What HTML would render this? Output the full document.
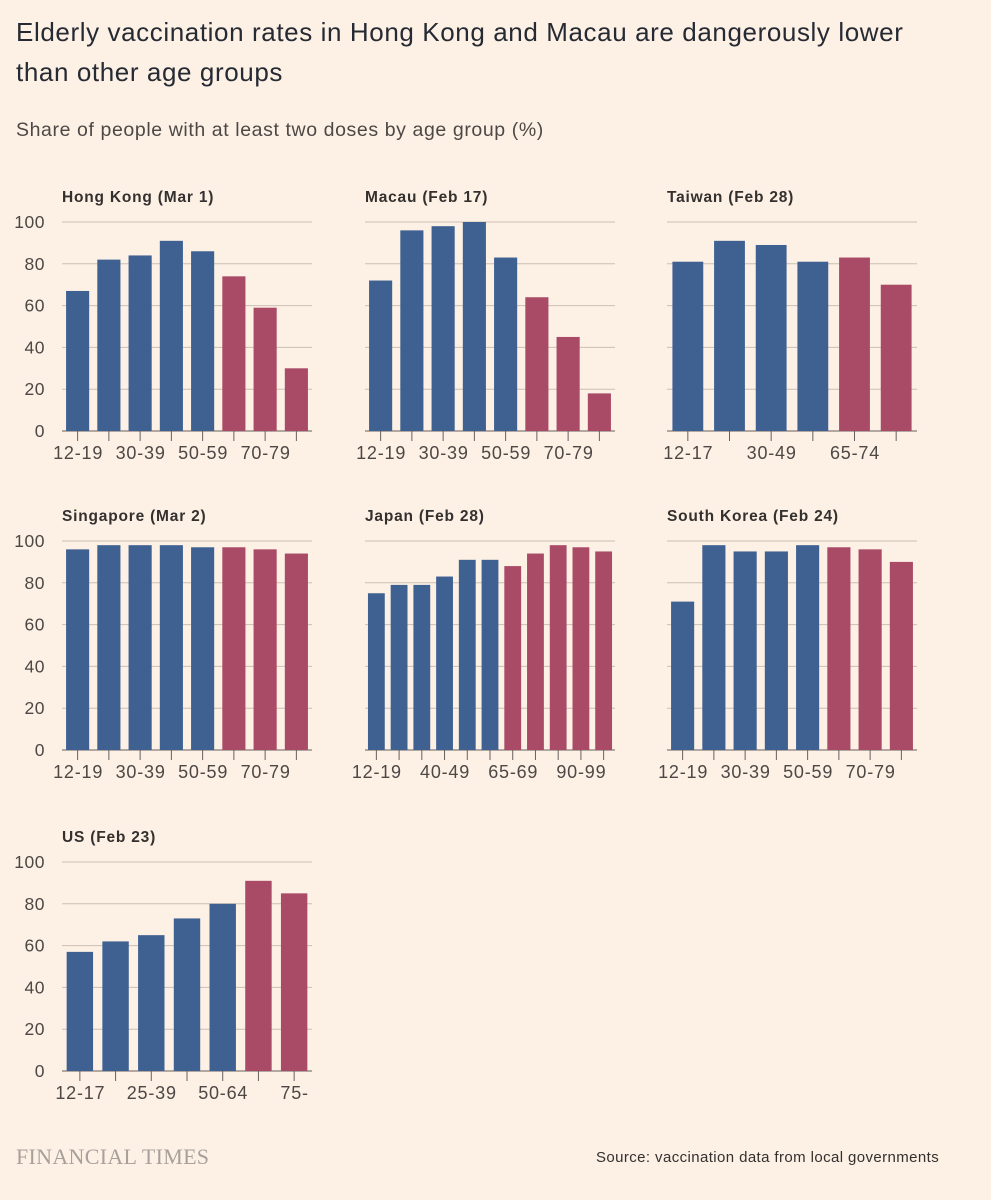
<!DOCTYPE html>
<html><head><meta charset="utf-8"><style>
body{margin:0;background:#fdf1e6;font-family:"Liberation Sans",sans-serif;}
#wrap{position:relative;width:991px;height:1200px;overflow:hidden;background:#fdf1e6}
.t{position:absolute;color:#33302e;white-space:nowrap}
</style></head><body><div id="wrap">
<div class="t" style="left:16px;top:12px;font-size:26px;line-height:40px;letter-spacing:0.6px;color:#262a33">Elderly vaccination rates in Hong Kong and Macau are dangerously lower<br>than other age groups</div>
<div class="t" style="left:16px;top:119px;font-size:19.5px;letter-spacing:0.6px;color:#4d4845">Share of people with at least two doses by age group (%)</div>
<div class="t" style="left:16px;top:1144px;font-family:'Liberation Serif',serif;font-size:22px;color:#a8a09a;letter-spacing:0.3px">FINANCIAL TIMES</div>
<div class="t" style="left:596px;top:1149px;font-size:15px;letter-spacing:0.4px;color:#33302e">Source: vaccination data from local governments</div>
<svg id="svg" width="991" height="1200" style="position:absolute;left:0;top:0"></svg>
</div>
<script>
const hkCats=["12-19","20-29","30-39","40-49","50-59","60-69","70-79","80+"];
const hkVals=[67,82,84,91,86,74,59,30];
const moVals=[72,96,98,100,83,64,45,18];
const twCats=["12-17","18-29","30-49","50-64","65-74","75+"];
const twVals=[81,91,89,81,83,70];
const sgVals=[96,98,98,98,97,97,96,94];
const jpCats=["12-19","20-29","30-39","40-49","50-59","60-64","65-69","70-79","80-89","90-99","100+"];
const jpVals=[75,79,79,83,91,91,88,94,98,97,95];
const krVals=[71,98,95,95,98,97,96,90];
const usCats=["12-17","18-24","25-39","40-49","50-64","65-74","75-"];
const usVals=[57,62,65,73,80,91,85];
const yTicks=[0,20,40,60,80,100];
const panels=[
 {name:"Hong Kong (Mar 1)",cats:hkCats,vals:hkVals,red:5,lab:2,x:62,y0:431,axis:true},
 {name:"Macau (Feb 17)",cats:hkCats,vals:moVals,red:5,lab:2,x:365,y0:431,axis:false},
 {name:"Taiwan (Feb 28)",cats:twCats,vals:twVals,red:4,lab:2,x:667,y0:431,axis:false},
 {name:"Singapore (Mar 2)",cats:hkCats,vals:sgVals,red:5,lab:2,x:62,y0:750,axis:true},
 {name:"Japan (Feb 28)",cats:jpCats,vals:jpVals,red:6,lab:3,x:365,y0:750,axis:false},
 {name:"South Korea (Feb 24)",cats:hkCats,vals:krVals,red:5,lab:2,x:667,y0:750,axis:false},
 {name:"US (Feb 23)",cats:usCats,vals:usVals,red:5,lab:2,x:62,y0:1071,axis:true}
];
const NS="http://www.w3.org/2000/svg",svg=document.getElementById("svg");
function mk(tag,at,parent){const e=document.createElementNS(NS,tag);for(const k in at)e.setAttribute(k,at[k]);(parent||svg).appendChild(e);return e;}
const W=250,H=209;
panels.forEach((p,pi)=>{
 const g=mk("g",{});
 
 
 const ys=v=>p.y0-v/100*H;
 const step=W/p.cats.length,bw=step*0.74;
 const xs=i=>p.x+i*step+(step-bw)/2;
 const tt=mk("text",{x:p.x,y:p.y0-H-20,"font-size":15.5,"letter-spacing":0.8,"font-weight":"bold",fill:"#33302e"},g);tt.textContent=p.name;
 
 
 yTicks.forEach(v=>{
  const l=mk("line",{x1:p.x,x2:p.x+W,y1:ys(v),y2:ys(v),stroke:v==0?"#66605c":"#cbbfb3","stroke-width":1},g);
  
  
  if(p.axis){const t=mk("text",{x:45,y:ys(v)+6,"text-anchor":"end","font-size":17.5,"letter-spacing":0.5,fill:"#4d4845"},g);t.textContent=v;
   
   }
 });
 p.vals.forEach((v,i)=>{
  const r=mk("rect",{x:xs(i),y:ys(v),width:bw,height:ys(0)-ys(v),fill:i>=p.red?"#a94b67":"#3f6192"},g);
  
  
  const cx=xs(i)+bw/2;
  const tk=mk("line",{x1:cx,x2:cx,y1:p.y0,y2:p.y0+10,stroke:"#66605c","stroke-width":1},g);
  
  
  if(i%p.lab==0){const t=mk("text",{x:cx+0.5,y:p.y0+28,"text-anchor":"middle","font-size":18,"letter-spacing":0.8,fill:"#4d4845"},g);t.textContent=p.cats[i];
   
   }
 });
});
</script></body></html>
